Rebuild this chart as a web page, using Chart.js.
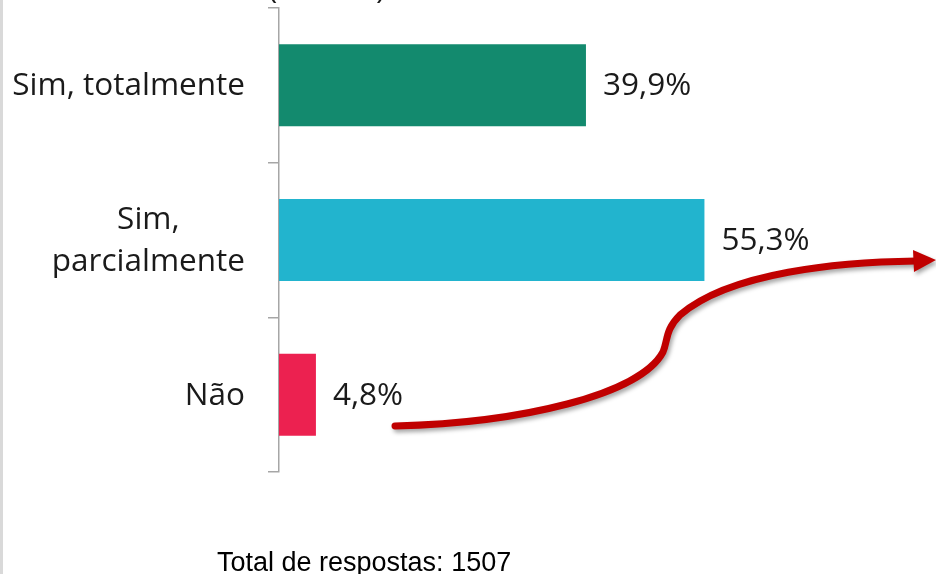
<!DOCTYPE html>
<html lang="pt">
<head>
    <meta charset="UTF-8">
    <title>Respostas</title>
    <script src="https://cdn.jsdelivr.net/npm/chart.js"></script>
    <style>
        html, body { margin: 0; padding: 0; background: #fff; }
        #wrap { width: 936px; height: 574px; position: relative; }
    </style>
</head>
<body>
<div id="wrap"><canvas id="myChart"></canvas></div>
<script>
    // dados do gráfico
    const categorias = [['Sim, totalmente'], ['Sim,', 'parcialmente'], ['Não']];
    const valores = [39.9, 55.3, 4.8];
    const cores = ['#138a6e', '#22b4ce', '#ec2150'];
    const rodape = 'Total de respostas: 1507';

    const fonteRotulo = '31.5px "Open Sans"';

    // desenha rótulos do eixo, valores, seta e rodapé
    const extras = {
        id: 'extras',
        beforeDraw(chart) {
            const c = chart.ctx;
            c.save();
            c.fillStyle = '#d9d9d9';
            c.fillRect(0, 0, 3, chart.height);
            c.restore();
        },
        afterDraw(chart) {
            const c = chart.ctx;
            const y = chart.scales.y;
            const meta = chart.getDatasetMeta(0);
            c.save();
            c.font = fonteRotulo;
            c.fillStyle = '#1a1a1a';
            c.textBaseline = 'middle';

            // rótulos das categorias (bloco alinhado à direita, linhas centradas)
            const xFim = y.right - 34;
            const alturaLinha = 42;
            categorias.forEach((linhas, i) => {
                const yc = y.getPixelForTick(i) + 1;
                const larg = Math.max(...linhas.map(l => c.measureText(l).width));
                const xc = xFim - larg / 2;
                c.textAlign = 'center';
                linhas.forEach((l, k) => {
                    c.fillText(l, xc, yc + (k - (linhas.length - 1) / 2) * alturaLinha);
                });
            });

            // valores
            c.textAlign = 'left';
            meta.data.forEach((bar, i) => {
                c.fillText(valores[i].toFixed(1).replace('.', ',') + '%', bar.x + 17, bar.y + 1);
            });

            // parênteses do título cortado
            c.textBaseline = 'alphabetic';
            c.fillText('(', 268, -2);
            c.fillText(')', 376, -2);

            // seta vermelha
            c.shadowColor = 'rgba(0,0,0,0.35)';
            c.shadowBlur = 4;
            c.shadowOffsetX = 2;
            c.shadowOffsetY = 3;
            c.strokeStyle = '#c00000';
            c.fillStyle = '#c00000';
            c.lineWidth = 7;
            c.lineCap = 'round';
            c.beginPath();
            c.moveTo(395, 426);
            c.bezierCurveTo(520, 423, 640, 395, 663, 352);
            c.bezierCurveTo(668, 340, 665, 330, 680, 315);
            c.bezierCurveTo(730, 272, 840, 262, 916, 261);
            c.stroke();
            c.beginPath();
            c.moveTo(936, 260);
            c.lineTo(913, 250);
            c.lineTo(914, 272);
            c.closePath();
            c.fill();
            c.restore();

            // rodapé
            c.save();
            c.font = '27px "Liberation Sans"';
            c.fillStyle = '#000';
            c.textAlign = 'left';
            c.textBaseline = 'alphabetic';
            c.fillText(rodape, 217, 571);
            c.restore();
        }
    };

    const ctx = document.getElementById('myChart').getContext('2d');
    const myChart = new Chart(ctx, {
        type: 'bar',
        data: {
            labels: categorias,
            datasets: [{
                data: valores,
                backgroundColor: cores,
                borderWidth: 0,
                barPercentage: 0.53,
                categoryPercentage: 1
            }]
        },
        options: {
            indexAxis: 'y',
            responsive: true,
            maintainAspectRatio: false,
            animation: false,
            layout: { padding: { top: 8, bottom: 102, left: 0, right: 0 } },
            plugins: {
                legend: { display: false },
                tooltip: { enabled: false }
            },
            scales: {
                x: {
                    display: false,
                    min: 0,
                    max: 85.4
                },
                y: {
                    afterFit(scale) { scale.width = 279; },
                    grid: {
                        offset: true,
                        drawOnChartArea: false,
                        drawTicks: true,
                        tickLength: 11,
                        color: '#a6a6a6',
                        lineWidth: 1.5
                    },
                    border: { display: true, color: '#a6a6a6', width: 1.5 },
                    ticks: { display: false }
                }
            }
        },
        plugins: [extras]
    });
</script>
</body>
</html>
